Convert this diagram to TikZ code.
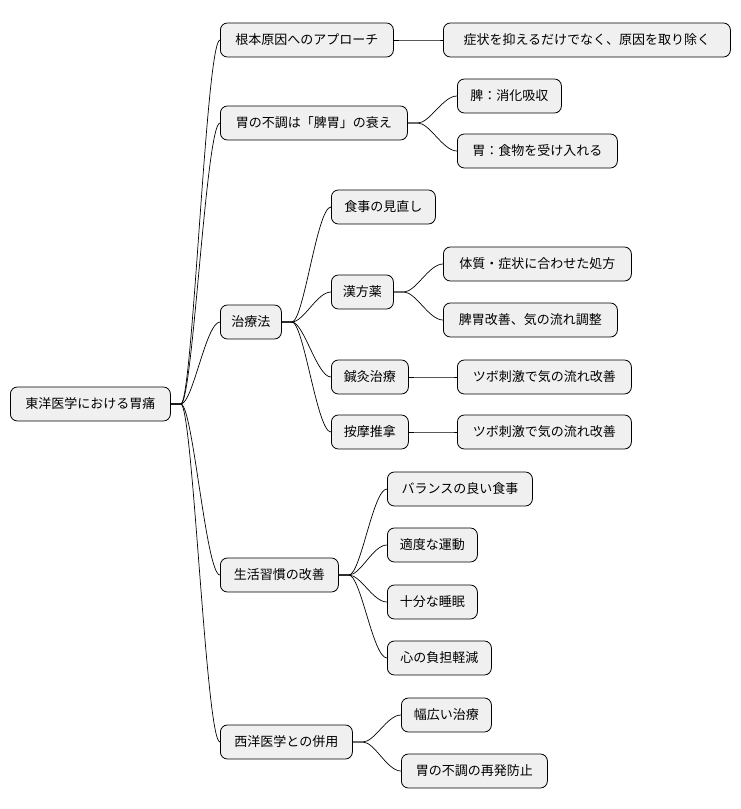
\documentclass[tikz,border=0pt]{standalone}
\usepackage{fontspec}
\newfontfamily\cjk{Noto Sans CJK JP}
\begin{document}
\begin{tikzpicture}[x=1pt,y=-1pt,
  box/.style={draw=black,line width=0.8pt,fill=black!6,rounded corners=7pt,minimum height=34pt,inner sep=0pt,anchor=west,font=\cjk\fontsize{13}{15}\selectfont},
  ln/.style={line width=0.7pt}]
\useasboundingbox (0,0) rectangle (740,809);
\newcommand\nd[5]{\node[box,minimum width=#4] (#1) at (#2,#3) {#5};}
\nd{r}{10}{404}{160}{東洋医学における胃痛}
\nd{a}{220}{40}{173}{根本原因へのアプローチ}
\nd{b}{220}{123}{187}{胃の不調は「脾胃」の衰え}
\nd{c}{220}{322}{61}{治療法}
\nd{d}{220}{575}{118}{生活習慣の改善}
\nd{e}{220}{742}{132}{西洋医学との併用}
\nd{a1}{443}{40}{287}{症状を抑えるだけでなく、原因を取り除く}
\nd{b1}{457}{96}{104}{脾：消化吸収}
\nd{b2}{457}{151}{160}{胃：食物を受け入れる}
\nd{c1}{331}{207}{104}{食事の見直し}
\nd{c2}{331}{292}{62}{漢方薬}
\nd{c3}{331}{377}{77}{鍼灸治療}
\nd{c4}{331}{432}{77}{按摩推拿}
\nd{c21}{443}{264}{188}{体質・症状に合わせた処方}
\nd{c22}{443}{320}{174}{脾胃改善、気の流れ調整}
\nd{c31}{457}{377}{174}{ツボ刺激で気の流れ改善}
\nd{c41}{457}{432}{174}{ツボ刺激で気の流れ改善}
\nd{d1}{387}{489}{145}{バランスの良い食事}
\nd{d2}{387}{545}{90}{適度な運動}
\nd{d3}{387}{602}{90}{十分な睡眠}
\nd{d4}{387}{658}{104}{心の負担軽減}
\nd{e1}{401}{715}{90}{幅広い治療}
\nd{e2}{401}{771}{146}{胃の不調の再発防止}
\foreach \p/\c in {r/a,r/b,r/c,r/d,r/e,a/a1,b/b1,b/b2,c/c1,c/c2,c/c3,c/c4,c2/c21,c2/c22,c3/c31,c4/c41,d/d1,d/d2,d/d3,d/d4,e/e1,e/e2}
  \draw[ln] (\p.east) -- ++(10,0) .. controls +(12,0) and +(-14,0) .. (\c.west);
\end{tikzpicture}
\end{document}
